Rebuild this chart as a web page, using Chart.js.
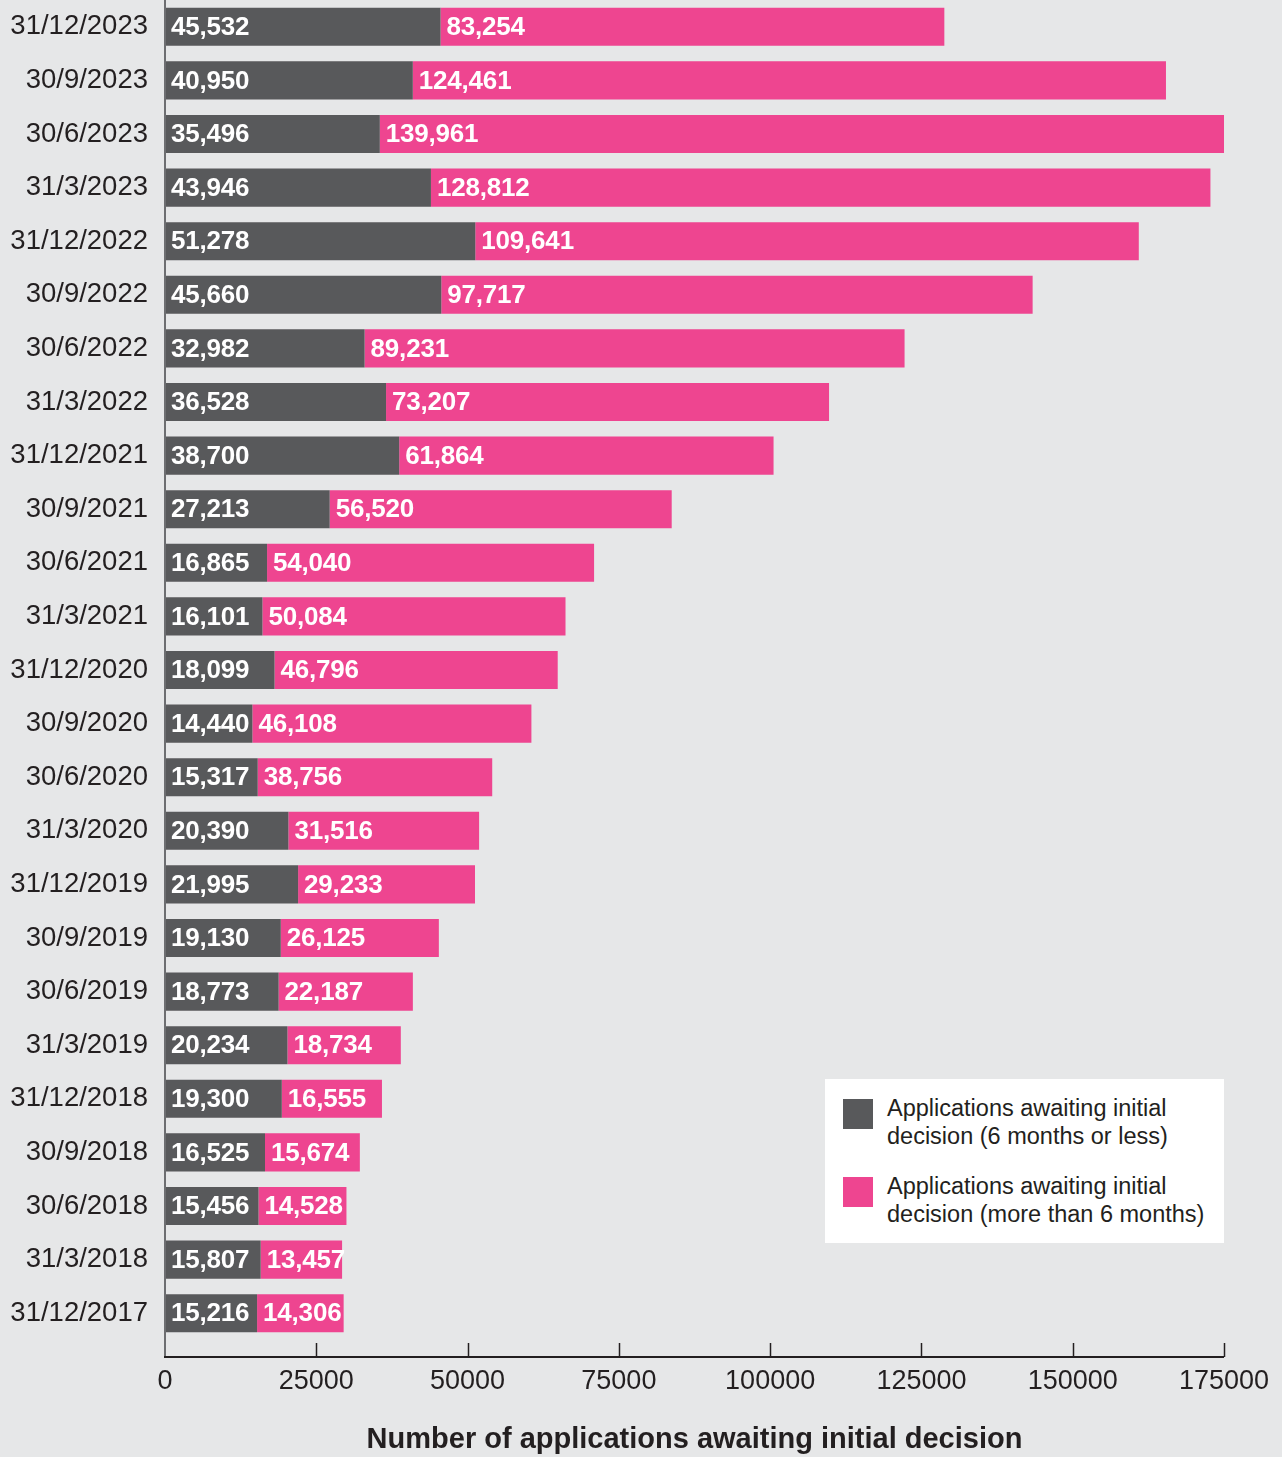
<!DOCTYPE html>
<html>
<head>
<meta charset="utf-8">
<script src="https://cdn.jsdelivr.net/npm/chart.js@4"></script>
<style>
  body { margin: 0; background: #e6e7e8; }
  #wrap { position: relative; width: 1282px; height: 1457px; }
  #legend {
    position: absolute; left: 825px; top: 1079px; width: 399px; height: 164px;
    background: #fff; font-family: "Liberation Sans", Arial, sans-serif;
    font-size: 23.5px; line-height: 28px; color: #231f20;
  }
  .item { position: absolute; left: 18px; }
  .item .sw { position: absolute; left: 0; width: 30px; height: 30px; }
  .item .txt { position: absolute; left: 44px; white-space: nowrap; }
</style>
</head>
<body>
<div id="wrap">
  <canvas id="chart" width="1282" height="1457"></canvas>
  <div id="legend"></div>
</div>
<script>
// quarters, newest at the top
const dates = ["31/12/2023", "30/9/2023", "30/6/2023", "31/3/2023", "31/12/2022", "30/9/2022",
  "30/6/2022", "31/3/2022", "31/12/2021", "30/9/2021", "30/6/2021", "31/3/2021", "31/12/2020",
  "30/9/2020", "30/6/2020", "31/3/2020", "31/12/2019", "30/9/2019", "30/6/2019", "31/3/2019",
  "31/12/2018", "30/9/2018", "30/6/2018", "31/3/2018", "31/12/2017"];

const sixMonthsOrLess = [45532, 40950, 35496, 43946, 51278, 45660, 32982, 36528, 38700, 27213,
  16865, 16101, 18099, 14440, 15317, 20390, 21995, 19130, 18773, 20234, 19300, 16525, 15456,
  15807, 15216];

const moreThanSixMonths = [83254, 124461, 139961, 128812, 109641, 97717, 89231, 73207, 61864,
  56520, 54040, 50084, 46796, 46108, 38756, 31516, 29233, 26125, 22187, 18734, 16555, 15674,
  14528, 13457, 14306];

const seriesNames = ["Applications awaiting initial\ndecision (6 months or less)",
  "Applications awaiting initial\ndecision (more than 6 months)"];
const xTicks = [0, 25000, 50000, 75000, 100000, 125000, 150000, 175000];

const darkGrey = "#58595b";
const pink = "#ee4590";
const textCol = "#231f20";
const font = "Liberation Sans, Arial, sans-serif";

// white value labels at the start of each segment
const barLabels = {
  id: "barLabels",
  afterDatasetsDraw(chart) {
    const ctx = chart.ctx;
    ctx.save();
    ctx.fillStyle = "#fff";
    ctx.font = "bold 26px " + font;
    ctx.letterSpacing = "-0.2px";
    ctx.textBaseline = "middle";
    ctx.textAlign = "left";
    chart.data.datasets.forEach((ds, i) => {
      chart.getDatasetMeta(i).data.forEach((bar, j) => {
        const start = Math.min(bar.base, bar.x);
        ctx.fillText(ds.data[j].toLocaleString("en-US"), start + 6, bar.y + 1);
      });
    });
    ctx.restore();
  }
};

// axis lines sit a little below the last bar, ticks point up
const axes = {
  id: "axes",
  afterDraw(chart) {
    const ctx = chart.ctx;
    const area = chart.chartArea;
    const xs = chart.scales.x;
    const axisY = area.bottom + 17;
    ctx.save();
    ctx.lineWidth = 2;
    ctx.strokeStyle = "#6d6e71";
    ctx.beginPath();
    ctx.moveTo(area.left, Math.max(area.top, 0));
    ctx.lineTo(area.left, axisY);
    ctx.stroke();
    ctx.strokeStyle = textCol;
    ctx.beginPath();
    ctx.moveTo(area.left - 1, axisY);
    ctx.lineTo(area.right, axisY);
    ctx.stroke();
    ctx.lineWidth = 1.5;
    xs.ticks.forEach(t => {
      if (t.value === 0) return;
      const px = Math.round(xs.getPixelForValue(t.value)) + 0.5;
      ctx.beginPath();
      ctx.moveTo(px, axisY - 14);
      ctx.lineTo(px, axisY);
      ctx.stroke();
    });
    ctx.restore();
  }
};

const chart = new Chart(document.getElementById("chart"), {
  type: "bar",
  data: {
    labels: dates,
    datasets: [
      { label: seriesNames[0], data: sixMonthsOrLess, backgroundColor: darkGrey },
      { label: seriesNames[1], data: moreThanSixMonths, backgroundColor: pink }
    ]
  },
  options: {
    indexAxis: "y",
    responsive: false,
    animation: false,
    layout: { padding: { top: 0, right: 58, left: 8, bottom: 0 } },
    datasets: { bar: { barPercentage: 0.71, categoryPercentage: 1 } },
    plugins: {
      legend: { display: false },
      tooltip: { enabled: false }
    },
    scales: {
      x: {
        stacked: true,
        min: 0,
        max: 175000,
        afterBuildTicks: s => { s.ticks = xTicks.map(v => ({ value: v })); },
        afterFit: s => { s.paddingLeft = 0; s.paddingRight = 0; s.height = 117; },
        grid: { display: false, drawTicks: false },
        border: { display: false },
        ticks: {
          padding: 25,
          color: textCol,
          font: { family: font, size: 27 },
          callback: v => String(v),
          maxRotation: 0
        },
        title: {
          display: true,
          text: "Number of applications awaiting initial decision",
          color: textCol,
          font: { family: font, size: 29, weight: "bold" },
          padding: { top: 27, bottom: 0 }
        }
      },
      y: {
        stacked: true,
        afterFit: s => { s.paddingTop = 0; s.paddingBottom = 0; s.width = 157; },
        grid: { display: false, drawTicks: false },
        border: { display: false },
        ticks: {
          padding: 17,
          color: textCol,
          font: { family: font, size: 27.5 }
        }
      }
    }
  },
  plugins: [barLabels, axes]
});

// legend box, built from the datasets
const legend = document.getElementById("legend");
chart.data.datasets.forEach((ds, i) => {
  const item = document.createElement("div");
  item.className = "item";
  item.style.top = (15 + i * 78) + "px";
  const sw = document.createElement("div");
  sw.className = "sw";
  sw.style.top = "5px";
  sw.style.background = ds.backgroundColor;
  const txt = document.createElement("div");
  txt.className = "txt";
  txt.innerHTML = ds.label.split("\n").join("<br>");
  item.appendChild(sw);
  item.appendChild(txt);
  legend.appendChild(item);
});
</script>
</body>
</html>
